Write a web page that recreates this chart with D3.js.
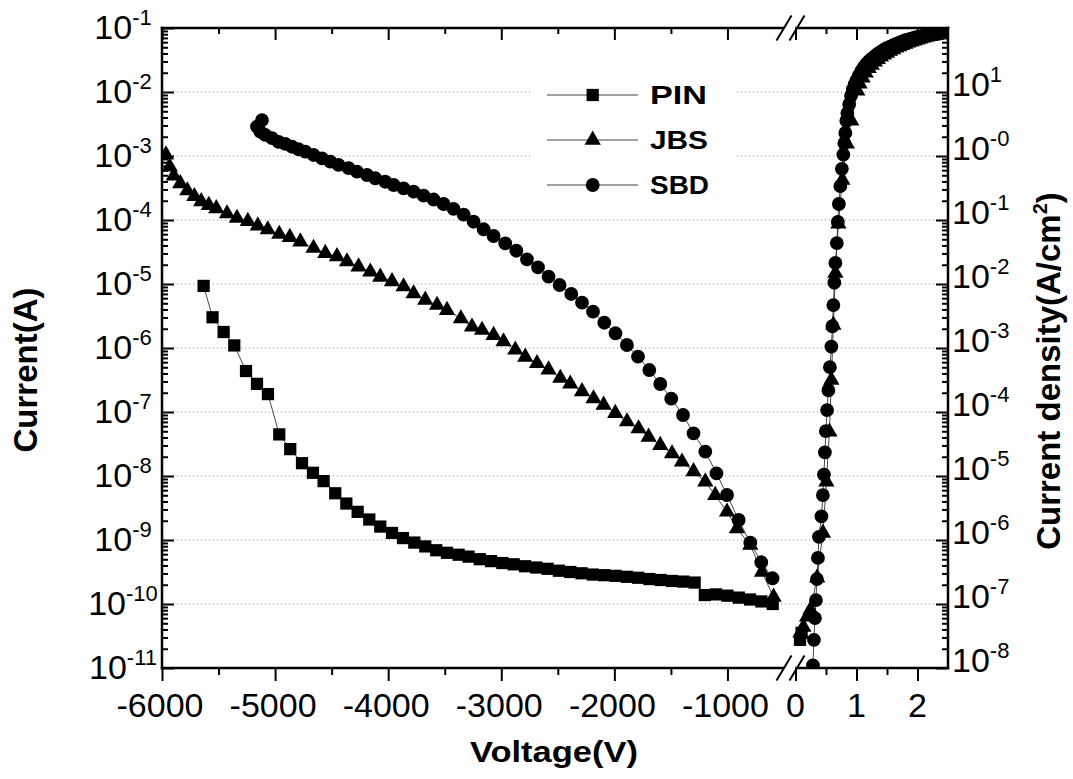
<!DOCTYPE html>
<html><head><meta charset="utf-8">
<script src="https://cdn.jsdelivr.net/npm/d3@7"></script>
<style>
body{margin:0;background:#fff}
svg{display:block}
text{font-family:"Liberation Sans",Arial,Helvetica,sans-serif;fill:#000}
</style>
</head><body>
<svg id="c" width="1073" height="779"></svg>
<script>
// ---------------- data (voltage in V, current as log10 of A) ----------------
const pinRevV = [-5632,-5553,-5455,-5361,-5257,-5160,-5063,-4963,-4866,-4762,-4665,-4571,-4468,-4370,-4270,-4167,-4070,-3966,-3869,-3769,-3672,-3575,-3480,-3377,-3289,-3190,-3090,-2990,-2890,-2790,-2690,-2590,-2490,-2390,-2290,-2190,-2090,-1990,-1890,-1790,-1690,-1590,-1490,-1390,-1290,-1200,-1100,-1000,-900,-800,-700,-600];
const pinRevLogI = [-5.03,-5.52,-5.75,-5.96,-6.36,-6.56,-6.72,-7.35,-7.58,-7.80,-7.95,-8.08,-8.27,-8.43,-8.56,-8.68,-8.79,-8.89,-8.97,-9.04,-9.10,-9.16,-9.20,-9.23,-9.26,-9.30,-9.33,-9.36,-9.38,-9.41,-9.43,-9.45,-9.48,-9.50,-9.52,-9.54,-9.55,-9.56,-9.575,-9.59,-9.61,-9.625,-9.64,-9.65,-9.665,-9.86,-9.85,-9.87,-9.90,-9.93,-9.96,-10.0];

const jbsRevV = [-5965,-5931,-5896,-5838,-5776,-5714,-5653,-5586,-5520,-5425,-5337,-5241,-5153,-5065,-4963,-4870,-4777,-4660,-4556,-4453,-4364,-4262,-4158,-4070,-3966,-3864,-3775,-3672,-3568,-3480,-3357,-3259,-3170,-3068,-2980,-2876,-2788,-2684,-2582,-2478,-2390,-2286,-2184,-2095,-1992,-1888,-1786,-1697,-1594,-1490,-1402,-1300,-1196,-1108,-1004,-916,-798,-695,-592];
const jbsRevLogI = [-2.98,-3.17,-3.31,-3.43,-3.54,-3.63,-3.71,-3.77,-3.82,-3.90,-3.97,-4.02,-4.09,-4.15,-4.22,-4.27,-4.34,-4.44,-4.52,-4.57,-4.65,-4.73,-4.81,-4.89,-4.96,-5.04,-5.15,-5.25,-5.33,-5.41,-5.54,-5.67,-5.72,-5.80,-5.90,-6.03,-6.14,-6.24,-6.34,-6.47,-6.56,-6.68,-6.79,-6.89,-7.02,-7.15,-7.26,-7.39,-7.52,-7.65,-7.78,-7.93,-8.09,-8.30,-8.56,-8.82,-9.08,-9.50,-9.89];

const sbdRevV = [-5116,-5160,-5131,-5087,-5027,-4969,-4910,-4851,-4792,-4733,-4660,-4585,-4512,-4439,-4350,-4276,-4187,-4114,-4026,-3952,-3864,-3775,-3687,-3598,-3510,-3422,-3333,-3245,-3156,-3068,-2965,-2867,-2773,-2675,-2582,-2484,-2381,-2286,-2189,-2089,-1990,-1889,-1791,-1691,-1594,-1497,-1393,-1300,-1196,-1097,-1004,-901,-798,-701,-601];
const sbdRevLogI = [-2.44,-2.54,-2.62,-2.67,-2.72,-2.78,-2.81,-2.855,-2.895,-2.933,-2.984,-3.036,-3.089,-3.14,-3.19,-3.245,-3.297,-3.348,-3.402,-3.453,-3.505,-3.558,-3.62,-3.68,-3.75,-3.825,-3.915,-4.027,-4.145,-4.25,-4.364,-4.48,-4.614,-4.739,-4.886,-5.016,-5.156,-5.292,-5.433,-5.605,-5.77,-5.953,-6.136,-6.344,-6.5625,-6.792,-7.047,-7.333,-7.62,-7.958,-8.297,-8.6875,-9.042,-9.348,-9.598];

const pinFwdV = [0.074,0.10];
const pinFwdLogI = [-10.56,-10.45];

const jbsFwdV = [0.08,0.13,0.19,0.245,0.355,0.45,0.507,0.556,0.588,0.621,0.654,0.703,0.768,0.841,0.915,1.013,1.05,1.10,1.15,1.20,1.25,1.30,1.35,1.40,1.45,1.50,1.55,1.60,1.65,1.70,1.75,1.80,1.85,1.90,1.95,2.00,2.05,2.10,2.15,2.20,2.25,2.30,2.35,2.40,2.45];
const jbsFwdLogI = [-10.45,-10.36,-10.20,-10.09,-9.59,-8.89,-8.09,-7.31,-6.50,-5.64,-4.83,-4.06,-3.375,-2.81,-2.45,-1.98,-1.87,-1.78,-1.70,-1.63,-1.58,-1.53,-1.49,-1.45,-1.42,-1.39,-1.36,-1.335,-1.31,-1.29,-1.27,-1.25,-1.23,-1.215,-1.20,-1.185,-1.17,-1.155,-1.14,-1.13,-1.12,-1.11,-1.10,-1.09,-1.08];

const sbdFwdV = [0.286,0.302,0.319,0.335,0.351,0.368,0.384,0.425,0.449,0.466,0.482,0.498,0.518,0.539,0.564,0.588,0.605,0.621,0.637,0.654,0.678,0.694,0.711,0.735,0.760,0.784,0.801,0.817,0.833,0.85,0.88,0.91,0.94,0.97,1.00,1.04,1.08,1.12,1.16,1.20,1.25,1.30,1.35,1.40,1.45,1.50,1.55,1.60,1.65,1.70,1.75,1.80,1.85,1.90,1.95,2.00,2.05,2.10,2.15,2.20,2.25,2.30,2.35,2.40,2.45];
const sbdFwdLogI = [-10.96,-10.56,-10.22,-9.94,-9.61,-9.28,-8.95,-8.63,-8.30,-7.98,-7.63,-7.30,-6.97,-6.66,-6.30,-5.98,-5.66,-5.33,-4.98,-4.67,-4.36,-4.03,-3.75,-3.47,-3.20,-2.98,-2.80,-2.64,-2.45,-2.33,-2.19,-2.06,-1.96,-1.88,-1.82,-1.74,-1.67,-1.61,-1.56,-1.52,-1.48,-1.44,-1.40,-1.37,-1.34,-1.31,-1.29,-1.27,-1.25,-1.23,-1.21,-1.19,-1.18,-1.165,-1.15,-1.14,-1.13,-1.12,-1.11,-1.10,-1.095,-1.09,-1.085,-1.075,-1.065];

const seriesNames = ["PIN","JBS","SBD"];
const xRevMajor = [-6000,-5000,-4000,-3000,-2000,-1000];
const xRevMinor = [-5500,-4500,-3500,-2500,-1500];
const xFwdMajor = [0,1,2];
const xFwdMinor = [0.5,1.5];
const leftExps = [-1,-2,-3,-4,-5,-6,-7,-8,-9,-10,-11];
const rightExps = [1,0,-1,-2,-3,-4,-5,-6,-7,-8];
const rightExpLabels = ["1","-0","-1","-2","-3","-4","-5","-6","-7","-8"];

// ---------------- layout ----------------
const svg = d3.select("#c");
const PL = 162, PR = 948, PT = 28, PB = 668;
const xRev = d3.scaleLinear().domain([-6000,-500]).range([PL,784]);
const xFwd = d3.scaleLinear().domain([0,2.5]).range([795.5,PR]);
const y = d3.scaleLog().domain([1e-11,1e-1]).range([PB,PT]);
const yR = d3.scaleLog().domain([1e-8,1e2]).range([PB,PT]);

const decades = d3.range(-11,0).map(e=>Math.pow(10,e));
const minors = [];
for (let e=-11;e<-1;e++) for (let m=2;m<=9;m++) minors.push(m*Math.pow(10,e));

svg.append("rect").attr("width",1073).attr("height",779).attr("fill","#fff");

// grid lines
svg.append("g").selectAll("line").data(decades.filter(d=>d>1.5e-11 && d<0.05)).join("line")
  .attr("x1",PL+3).attr("x2",PR-8).attr("y1",d=>y(d)).attr("y2",d=>y(d))
  .attr("stroke","#8a8a8a").attr("stroke-width",1).attr("stroke-dasharray","1 3");

// legend background (hides grid)
svg.append("rect").attr("x",530).attr("y",72).attr("width",207).attr("height",132).attr("fill","#fff");

// clip
svg.append("clipPath").attr("id","pc").append("rect")
  .attr("x",PL).attr("y",PT).attr("width",PR-PL).attr("height",PB-PT);

function pts(vs, ls){ const n=Math.min(vs.length, ls.length); return d3.range(n).map(i=>({v:vs[i], i:Math.pow(10,ls[i])})); }
const data = {
  PIN:{rev:pts(pinRevV,pinRevLogI), fwd:pts(pinFwdV,pinFwdLogI), sym:d3.symbolSquare, size:150},
  JBS:{rev:pts(jbsRevV,jbsRevLogI), fwd:pts(jbsFwdV,jbsFwdLogI), sym:d3.symbolTriangle, size:115},
  SBD:{rev:pts(sbdRevV,sbdRevLogI), fwd:pts(sbdFwdV,sbdFwdLogI), sym:d3.symbolCircle, size:150}
};

const plot = svg.append("g").attr("clip-path","url(#pc)");
const lineRev = d3.line().x(d=>xRev(d.v)).y(d=>y(d.i));
const lineFwd = d3.line().x(d=>xFwd(d.v)).y(d=>y(d.i));
seriesNames.forEach(s=>{
  plot.append("path").attr("d",lineRev(data[s].rev)).attr("fill","none").attr("stroke","#333").attr("stroke-width",0.9);
  plot.append("path").attr("d",lineFwd(data[s].fwd)).attr("fill","none").attr("stroke","#333").attr("stroke-width",0.9);
});
seriesNames.forEach(s=>{
  const sym = d3.symbol().type(data[s].sym).size(data[s].size);
  const g = plot.append("g");
  g.selectAll("path.r").data(data[s].rev).join("path").attr("class","r")
    .attr("transform",d=>`translate(${xRev(d.v)},${y(d.i)})`).attr("d",sym).attr("fill","#000");
  g.selectAll("path.f").data(data[s].fwd).join("path").attr("class","f")
    .attr("transform",d=>`translate(${xFwd(d.v)},${y(d.i)})`).attr("d",sym).attr("fill","#000");
});

// ---------------- axes ----------------
function styleAxis(g){ g.select(".domain").remove(); g.selectAll(".tick line").attr("stroke","#000").attr("stroke-width",2); g.selectAll(".tick text").remove(); }
svg.append("g").attr("transform",`translate(${PL},0)`).call(d3.axisLeft(y).tickValues(decades).tickSize(-12).tickFormat("")).call(styleAxis);
svg.append("g").attr("transform",`translate(${PL},0)`).call(d3.axisLeft(y).tickValues(minors).tickSize(-6).tickFormat("")).call(styleAxis);
svg.append("g").attr("transform",`translate(${PR},0)`).call(d3.axisRight(yR).tickValues(decades.map(d=>d*1000)).tickSize(-12).tickFormat("")).call(styleAxis);
svg.append("g").attr("transform",`translate(${PR},0)`).call(d3.axisRight(yR).tickValues(minors.map(d=>d*1000)).tickSize(-6).tickFormat("")).call(styleAxis);

[[xRev,xRevMajor,xRevMinor],[xFwd,xFwdMajor,xFwdMinor]].forEach(([sc,maj,mn])=>{
  svg.append("g").attr("transform",`translate(0,${PB})`).call(d3.axisBottom(sc).tickValues(maj).tickSize(13).tickFormat("")).call(styleAxis);
  svg.append("g").attr("transform",`translate(0,${PB})`).call(d3.axisBottom(sc).tickValues(mn).tickSize(7).tickFormat("")).call(styleAxis);
  svg.append("g").attr("transform",`translate(0,${PT})`).call(d3.axisTop(sc).tickValues(maj).tickSize(-12).tickFormat("")).call(styleAxis);
  svg.append("g").attr("transform",`translate(0,${PT})`).call(d3.axisTop(sc).tickValues(mn).tickSize(-6).tickFormat("")).call(styleAxis);
});

// frame
const fr = svg.append("g").attr("stroke","#000").attr("stroke-width",2.5).attr("stroke-linecap","square");
fr.append("line").attr("x1",PL).attr("x2",PL).attr("y1",PT).attr("y2",PB);
fr.append("line").attr("x1",PR).attr("x2",PR).attr("y1",PT).attr("y2",PB);
[PT,PB].forEach(yy=>{
  fr.append("line").attr("x1",xRev.range()[0]).attr("x2",xRev.range()[1]-1).attr("y1",yy).attr("y2",yy);
  fr.append("line").attr("x1",xFwd.range()[0]+1).attr("x2",xFwd.range()[1]).attr("y1",yy).attr("y2",yy);
});
// break marks
const br = svg.append("g").attr("stroke","#000").attr("stroke-width",2);
[PT,PB].forEach(yy=>{
  [xRev.range()[1], xFwd.range()[0]+1.5].forEach(cx=>{
    br.append("line").attr("x1",cx-7.5).attr("y1",yy+12.5).attr("x2",cx+7.5).attr("y2",yy-12.5);
  });
});

// tick labels
const lt = svg.append("g").attr("font-size",34);
leftExps.forEach(e=>{
  const t = lt.append("text").attr("x",123).attr("y",y(Math.pow(10,e))+11).attr("text-anchor","middle");
  t.append("tspan").text("10");
  t.append("tspan").attr("dy",-14).attr("font-size",22).text(String(e));
});
rightExps.forEach((e,k)=>{
  const t = lt.append("text").attr("x",952).attr("y",yR(Math.pow(10,e))+4).attr("text-anchor","start");
  t.append("tspan").text("10");
  t.append("tspan").attr("dy",-14).attr("font-size",22).text(rightExpLabels[k]);
});
xRevMajor.forEach(v=>{
  lt.append("text").attr("x",xRev(v)-2).attr("y",717).attr("text-anchor","middle").text(String(v));
});
xFwdMajor.forEach(v=>{
  lt.append("text").attr("x",xFwd(v)).attr("y",717).attr("text-anchor","middle").text(String(v));
});

// titles
svg.append("text").attr("x",554).attr("y",762).attr("text-anchor","middle")
  .attr("font-size",30).attr("font-weight","bold").attr("textLength",168).attr("lengthAdjust","spacingAndGlyphs").text("Voltage(V)");
svg.append("text").attr("transform","translate(37,370) rotate(-90)").attr("text-anchor","middle")
  .attr("font-size",33).attr("font-weight","bold").text("Current(A)");
const rt = svg.append("text").attr("transform","translate(1060,371) rotate(-90)").attr("text-anchor","middle")
  .attr("font-size",33).attr("font-weight","bold");
rt.append("tspan").text("Current density(A/cm");
rt.append("tspan").attr("dy",-13).attr("font-size",20).text("2");
rt.append("tspan").attr("dy",13).text(")");

// legend
const lg = svg.append("g");
const legY = [95,140,185];
const legLen = [57,58,59];
seriesNames.forEach((s,k)=>{
  const yy = legY[k];
  lg.append("line").attr("x1",547).attr("x2",638).attr("y1",yy).attr("y2",yy).attr("stroke","#444").attr("stroke-width",1);
  lg.append("path").attr("transform",`translate(592.7,${yy})`).attr("d",d3.symbol().type(data[s].sym).size(data[s].size)()).attr("fill","#000");
  lg.append("text").attr("x",650).attr("y",yy+9).attr("font-size",25).attr("font-weight","bold")
    .attr("textLength",legLen[k]).attr("lengthAdjust","spacingAndGlyphs").text(s);
});
</script>
</body></html>
